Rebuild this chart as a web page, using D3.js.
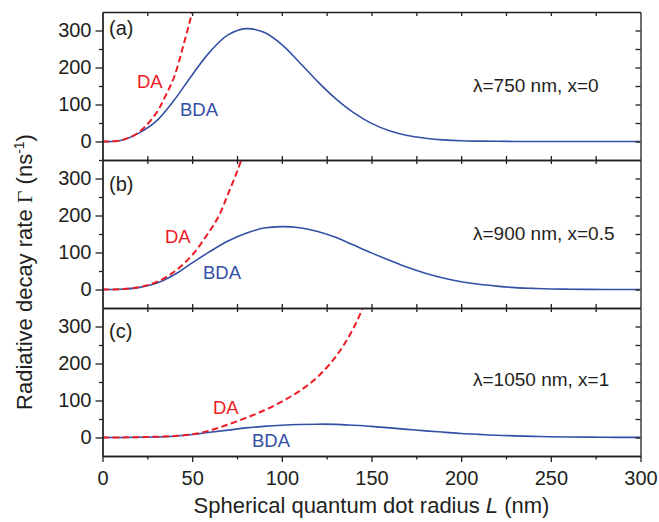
<!DOCTYPE html>
<html>
<head>
<meta charset="utf-8">
<script src="https://cdn.jsdelivr.net/npm/d3@7"></script>
<style>
body { margin: 0; background: #fff; }
text { font-family: "Liberation Sans", Arial, sans-serif; fill: #231f20; }
</style>
</head>
<body>
<div id="wrapper"></div>
<script>
// radius grid for the BDA curves (nm)
const radiusL = [0,10,20,30,40,50,60,70,80,90,100,110,120,130,140,150,160,170,180,190,200,210,220,230,240,250,260,270,280,290,300];
const bdaA = [0,2.5,22,55,112,180,243,288,305,295,262,213,162,116,78,49,29,16,9,4.5,2,1,0.5,0.2,0.1,0,0,0,0,0,0];
const bdaB = [0,0.7,5,17,40,72,103,131,152,166,170,167,157,141,120,99,79,60,44,31,21,14,9,5,3,1.5,0.8,0.4,0.2,0.1,0];
const bdaC = [0,0.1,0.5,1.2,3.5,8,14,20,26,30,33,35,36,35.5,33,30,26,22,18,14.5,11,8.5,6,4.5,3,2,1.4,1,0.6,0.4,0.3];

// DA curves (dipole approximation), own radius grids
const daA_L = [0,10,20,30,35,40,45,50,55];
const daA = [0,3,24,77,122,175,258,350,460];
const daB_L = [0,10,20,30,40,50,60,65,70,75,80];
const daB = [0,1,6,20,48,93,160,200,258,318,385];
const daC_L = [0,10,20,30,40,50,60,70,80,90,100,110,120,130,140,150];
const daC = [0,0.2,1,2,4,8.5,19,35,53,73,97,126,164,218,296,405];

const panelLetters = ["(a)", "(b)", "(c)"];
const panelNotes = [["750", "0"], ["900", "0.5"], ["1050", "1"]];

const xTicks = [0,50,100,150,200,250,300];
const yTicks = [0,100,200,300];

const blue = "#3450a5", red = "#ed1c24", ink = "#231f20";

const W = 659, H = 522;
const margin = {left: 102.5, right: 18.5, top: 12};
const panelH = 148;

const svg = d3.select("#wrapper").append("svg")
    .attr("width", W).attr("height", H);

const x = d3.scaleLinear().domain([0, 300]).range([margin.left, W - margin.right]);

const panels = [
    {bda: bdaA, daL: daA_L, da: daA, lDA: [137, 88], lBDA: [180, 116], letterY: 35, noteY: 92},
    {bda: bdaB, daL: daB_L, da: daB, lDA: [165, 243], lBDA: [203, 279], letterY: 191, noteY: 240},
    {bda: bdaC, daL: daC_L, da: daC, lDA: [213, 414], lBDA: [252, 447], letterY: 338, noteY: 386}
];

panels.forEach((p, i) => {
    const top = margin.top + i * panelH, bottom = top + panelH;
    const y = d3.scaleLinear().domain([-50, 350]).range([bottom, top]);
    const g = svg.append("g");

    svg.append("clipPath").attr("id", "clip" + i)
        .append("rect").attr("x", x(0)).attr("y", top).attr("width", x(300) - x(0)).attr("height", panelH);

    const line = d3.line().curve(d3.curveCatmullRom.alpha(0.5));

    // BDA curve
    g.append("path")
        .attr("clip-path", `url(#clip${i})`)
        .attr("fill", "none").attr("stroke", blue).attr("stroke-width", 1.6)
        .attr("d", line(radiusL.map((L, k) => [x(L), y(p.bda[k])])));

    // DA curve
    g.append("path")
        .attr("clip-path", `url(#clip${i})`)
        .attr("fill", "none").attr("stroke", red).attr("stroke-width", 2)
        .attr("stroke-dasharray", "6.5,3.5")
        .attr("d", line(p.daL.map((L, k) => [x(L), y(p.da[k])])));

    // axes
    const minorY = [-50, 50, 150, 250];
    const quarterX = d3.range(0, 301, 25);
    const styleAxis = sel => {
        sel.selectAll("path, line").attr("stroke", ink).attr("stroke-width", 1.3);
        sel.selectAll("text").remove();
    };
    const styleLabels = sel => {
        sel.selectAll("path, line").attr("stroke", ink).attr("stroke-width", 1.3);
        sel.selectAll("text").attr("font-size", 20).attr("fill", ink)
            .attr("font-family", "Liberation Sans, Arial, sans-serif");
    };

    g.append("g").attr("transform", `translate(${x(0)},0)`)
        .call(d3.axisLeft(y).tickValues(yTicks).tickSize(7).tickSizeOuter(0).tickPadding(4).tickFormat(d3.format("d")))
        .call(styleLabels);
    g.append("g").attr("transform", `translate(${x(0)},0)`)
        .call(d3.axisLeft(y).tickValues(minorY.slice(i === 0 ? 0 : 1)).tickSize(3.5).tickSizeOuter(0))
        .call(styleAxis);

    g.append("g").attr("transform", `translate(${x(300)},0)`)
        .call(d3.axisRight(y).tickValues(d3.range(0, 301, 50)).tickSize(-5).tickSizeOuter(0))
        .call(styleAxis);

    g.append("g").attr("transform", `translate(0,${top})`)
        .call(d3.axisTop(x).tickValues(quarterX.slice(1, -1)).tickSize(-4).tickSizeOuter(0))
        .call(styleAxis);

    if (i < 2) {
        g.append("g").attr("transform", `translate(0,${bottom})`)
            .call(d3.axisBottom(x).tickValues(quarterX.slice(1, -1)).tickSize(-4).tickSizeOuter(0))
            .call(styleAxis);
    } else {
        g.append("g").attr("transform", `translate(0,${bottom})`)
            .call(d3.axisBottom(x).tickValues(xTicks).tickSize(6).tickSizeOuter(0).tickPadding(9))
            .call(styleLabels);
        g.append("g").attr("transform", `translate(0,${bottom})`)
            .call(d3.axisBottom(x).tickValues(d3.range(25, 300, 50)).tickSize(3.5).tickSizeOuter(0))
            .call(styleAxis);
    }

    // panel letter
    g.append("text").attr("x", 109).attr("y", p.letterY)
        .attr("font-size", 20).text(panelLetters[i]);

    // condition note
    const note = g.append("text").attr("x", 473).attr("y", p.noteY).attr("font-size", 19);
    note.append("tspan").text("λ");
    note.append("tspan").text(`=${panelNotes[i][0]} nm, x=${panelNotes[i][1]}`);

    // curve labels
    g.append("text").attr("x", p.lDA[0]).attr("y", p.lDA[1])
        .attr("font-size", 18.5).style("fill", red).text("DA");
    g.append("text").attr("x", p.lBDA[0]).attr("y", p.lBDA[1])
        .attr("font-size", 18.5).style("fill", blue).text("BDA");
});

// x title
const xt = svg.append("text")
    .attr("x", (x(0) + x(300)) / 2).attr("y", 513)
    .attr("text-anchor", "middle").attr("font-size", 22);
xt.append("tspan").text("Spherical quantum dot radius ");
xt.append("tspan").attr("font-style", "italic").text("L");
xt.append("tspan").text(" (nm)");

// y title
const yt = svg.append("text")
    .attr("transform", `translate(32,${margin.top + 1.5 * panelH + 38}) rotate(-90)`)
    .attr("text-anchor", "middle").attr("font-size", 22);
yt.append("tspan").text("Radiative decay rate ");
yt.append("tspan").attr("font-family", "Liberation Serif, serif").text("Γ");
yt.append("tspan").text(" (ns");
yt.append("tspan").attr("font-size", 14).attr("dy", -8).text("-1");
yt.append("tspan").attr("dy", 8).text(")");
</script>
</body>
</html>
